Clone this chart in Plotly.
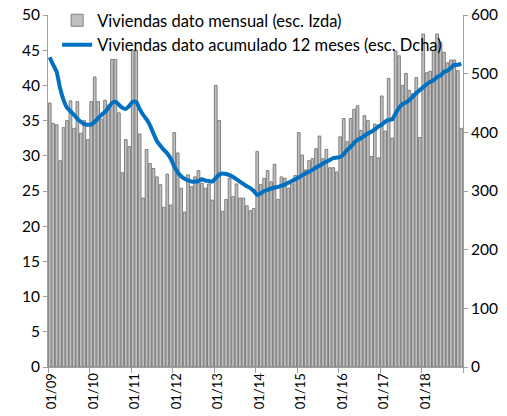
import plotly.graph_objects as go

# Monthly categories 01/2009 .. 12/2018
months = [f"{m:02d}/{y:02d}" for y in range(9, 19) for m in range(1, 13)]
year_labels = ["01/09", "01/10", "01/11", "01/12", "01/13", "01/14", "01/15", "01/16", "01/17", "01/18"]

# Viviendas dato mensual (left axis, thousands)
mensual_2009 = [37.5, 34.6, 34.4, 29.3, 34.0, 35.0, 37.8, 33.9, 37.7, 33.2, 35.0, 32.3]
mensual_2010 = [37.7, 41.2, 37.7, 35.2, 37.9, 37.2, 43.7, 43.7, 36.1, 27.6, 32.3, 31.3]
mensual_2011 = [45.0, 45.0, 33.1, 24.0, 30.9, 28.9, 28.2, 27.0, 25.9, 22.7, 27.4, 23.0]
mensual_2012 = [33.3, 30.4, 25.4, 22.0, 27.3, 25.6, 27.0, 27.9, 26.1, 25.4, 26.0, 23.7]
mensual_2013 = [40.0, 35.0, 22.1, 23.8, 26.8, 24.2, 26.0, 24.0, 24.0, 22.9, 22.2, 22.5]
mensual_2014 = [30.6, 25.9, 26.8, 27.9, 26.3, 28.8, 23.8, 27.0, 26.8, 25.4, 26.0, 27.2]
mensual_2015 = [33.3, 30.1, 28.0, 29.3, 29.6, 31.0, 32.8, 29.6, 30.9, 28.3, 28.3, 27.7]
mensual_2016 = [32.7, 35.3, 32.0, 35.3, 36.6, 37.1, 33.6, 35.7, 35.0, 29.9, 34.5, 29.7]
mensual_2017 = [38.5, 33.5, 41.0, 32.5, 44.9, 44.2, 40.0, 41.7, 39.3, 38.8, 41.1, 32.6]
mensual_2018 = [47.3, 41.8, 42.0, 45.0, 47.3, 46.1, 44.7, 43.2, 43.6, 43.6, 42.1, 33.9]
mensual = (mensual_2009 + mensual_2010 + mensual_2011 + mensual_2012 + mensual_2013 +
           mensual_2014 + mensual_2015 + mensual_2016 + mensual_2017 + mensual_2018)

# Viviendas dato acumulado 12 meses (right axis)
acum_2009 = [528, 515, 503, 475, 455, 442, 436, 430, 423, 418, 414, 413]
acum_2010 = [413, 418, 424, 430, 435, 442, 450, 452, 447, 442, 440, 445]
acum_2011 = [452, 452, 440, 430, 422, 412, 398, 385, 377, 370, 364, 355]
acum_2012 = [342, 332, 325, 321, 318, 316, 316, 317, 320, 318, 317, 316]
acum_2013 = [322, 328, 330, 329, 327, 324, 320, 316, 312, 308, 305, 300]
acum_2014 = [293, 296, 300, 302, 304, 306, 307, 309, 311, 314, 317, 320]
acum_2015 = [323, 327, 330, 333, 336, 340, 343, 347, 350, 353, 356, 357]
acum_2016 = [358, 363, 370, 375, 382, 387, 390, 394, 398, 401, 405, 410]
acum_2017 = [413, 418, 421, 422, 432, 442, 448, 451, 455, 461, 467, 472]
acum_2018 = [477, 482, 486, 489, 494, 497, 503, 505, 510, 515, 515, 517]
acumulado = (acum_2009 + acum_2010 + acum_2011 + acum_2012 + acum_2013 +
             acum_2014 + acum_2015 + acum_2016 + acum_2017 + acum_2018)

idx = list(range(len(months)))
FONT = "Lato"

fig = go.Figure()
fig.add_trace(go.Bar(
    x=idx, y=mensual, customdata=months,
    name="Viviendas dato mensual (esc. Izda)",
    marker=dict(color="#c0c0c0", line=dict(color="#7f7f7f", width=1)),
    legendgroup="a",
))
fig.add_trace(go.Scatter(
    x=idx, y=acumulado, customdata=months, yaxis="y2", mode="lines",
    name="Viviendas dato acumulado 12 meses (esc. Dcha)",
    line=dict(color="#0070c0", width=4, shape="spline", smoothing=0.5),
    legendgroup="b",
))

axis_line = "#a0a0a0"
fig.update_layout(
    width=507, height=416,
    margin=dict(l=48, r=44, t=15, b=49, autoexpand=False),
    paper_bgcolor="white", plot_bgcolor="white",
    font=dict(family=FONT, size=15, color="black"),
    bargap=0.22,
    showlegend=True,
    legend=dict(x=0.022, y=1.034, xanchor="left", yanchor="top",
                bgcolor="rgba(0,0,0,0)", font=dict(size=16.5, family=FONT),
                tracegroupgap=0, itemwidth=30),
    xaxis=dict(
        range=[-0.5, len(months) - 0.5],
        tickmode="array",
        tickvals=[12 * i + 0.7 for i in range(len(year_labels))],
        ticktext=year_labels,
        tickangle=-90, ticks="",
        tickfont=dict(size=13, family=FONT),
        showline=True, linecolor=axis_line, linewidth=1,
        showgrid=False, zeroline=False, automargin=False,
        minor=dict(tick0=-0.5, dtick=12, ticks="outside", ticklen=5,
                   tickcolor=axis_line, showgrid=False),
    ),
    yaxis=dict(
        range=[0, 50], dtick=5, showgrid=False, zeroline=False,
        showline=True, linecolor=axis_line, linewidth=1,
        ticks="outside", ticklen=4, tickcolor=axis_line,
        tickfont=dict(size=15.5, family=FONT), automargin=False,
    ),
    yaxis2=dict(
        range=[0, 600], dtick=100, overlaying="y", side="right",
        showgrid=False, zeroline=False,
        showline=True, linecolor=axis_line, linewidth=1,
        ticks="outside", ticklen=4, tickcolor=axis_line,
        tickfont=dict(size=15.5, family=FONT), automargin=False,
    ),
)

fig.write_html("out.html", config={"displayModeBar": False},
               post_script="document.body.style.margin='0px';")
